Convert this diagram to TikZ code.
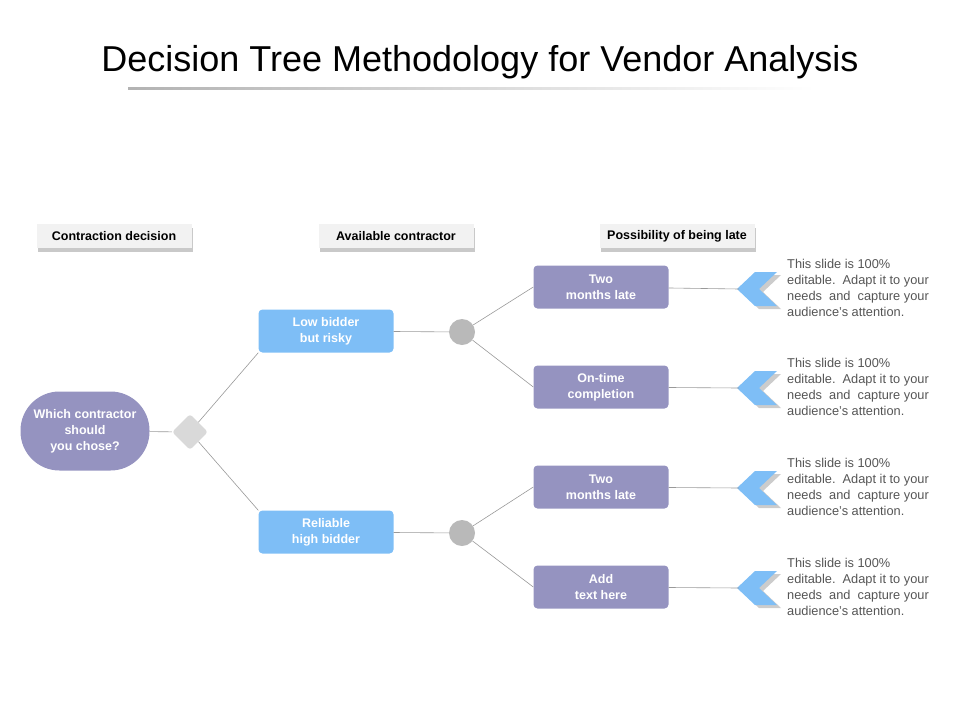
\documentclass[tikz,border=0pt]{standalone}
\usepackage{fontspec}
\setmainfont{Liberation Sans}
\usetikzlibrary{shapes.geometric,shadows}
\definecolor{pur}{HTML}{9593C0}
\definecolor{blu}{HTML}{7EBEF6}
\definecolor{txt}{HTML}{555555}
\begin{document}
\begin{tikzpicture}[x=1pt,y=-1pt,
  tab/.style={fill=gray!10,minimum width=155pt,minimum height=24pt,font=\bfseries\fontsize{12.5}{14}\selectfont,
    drop shadow={shadow xshift=1pt,shadow yshift=-4pt,fill=gray!60,opacity=.7}},
  pbox/.style={fill=pur,rounded corners=4pt,minimum width=135pt,minimum height=43pt,text=white,
    font=\bfseries\fontsize{12.5}{16}\selectfont,align=center},
  bbox/.style={pbox,fill=blu},
  dot/.style={circle,fill=gray!55,minimum size=26pt,inner sep=0},
  ln/.style={draw=gray!80,line width=0.6pt},
  note/.style={anchor=north west,text=txt,align=left,font=\fontsize{12.8}{16}\selectfont,inner sep=0},
  chev/.style={fill=blu}]
\useasboundingbox (0,0) rectangle (960,720);
\node (title) at (480,62) {\fontsize{36}{40}\selectfont Decision Tree Methodology for Vendor Analysis};
\shade[left color=gray!60,right color=white] (128,87.5) rectangle (815,89);
\node[tab] (t1) at (114,236) {Contraction decision};
\node[tab] (t2) at (396,236) {Available contractor};
\node[tab] (t3) at (677,236) {Possibility of being late};
\node[fill=pur,rounded corners=39pt,minimum width=129pt,minimum height=79pt,text=white,
  font=\bfseries\fontsize{12.5}{16}\selectfont,align=center] (root) at (85,431) {Which contractor\\should\\you chose?};
\node[diamond,fill=gray!30,minimum size=36pt,inner sep=0,rounded corners=3pt] (dm) at (190,432) {};
\node[bbox] (low) at (326,331) {Low bidder\\but risky};
\node[bbox] (rel) at (326,532) {Reliable\\high bidder};
\node[dot] (c1) at (462,332) {};
\node[dot] (c2) at (462,533) {};
\node[pbox] (p1) at (601,287) {Two\\months late};
\node[pbox] (p2) at (601,387) {On-time\\completion};
\node[pbox] (p3) at (601,487) {Two\\months late};
\node[pbox] (p4) at (601,587) {Add\\text here};
\draw[ln] (root) -- (dm);
\draw[ln] (dm) -- (low.south west);
\draw[ln] (dm) -- (rel.north west);
\draw[ln] (low) -- (c1);
\draw[ln] (rel) -- (c2);
\draw[ln] (c1) -- (p1.west);
\draw[ln] (c1) -- (p2.west);
\draw[ln] (c2) -- (p3.west);
\draw[ln] (c2) -- (p4.west);
\foreach \i/\y in {1/289,2/388,3/488,4/588}{
  \coordinate (k\i) at (739,\y);
  \fill[gray!40] (741,\y+3) -- (759,\y-14) -- (781,\y-14) -- (763,\y+3) -- (781,\y+20) -- (759,\y+20) -- cycle;
  \fill[chev] (737,\y) -- (755,\y-17) -- (777,\y-17) -- (759,\y) -- (777,\y+17) -- (755,\y+17) -- cycle;
  \draw[ln] (p\i) -- (k\i);
  \node[note] (n\i) at (787,\y-30) {This slide is 100\%\\editable.\ \ Adapt it to your\\needs\ \ and\ \ capture your\\audience’s attention.};
}
\end{tikzpicture}
\end{document}
